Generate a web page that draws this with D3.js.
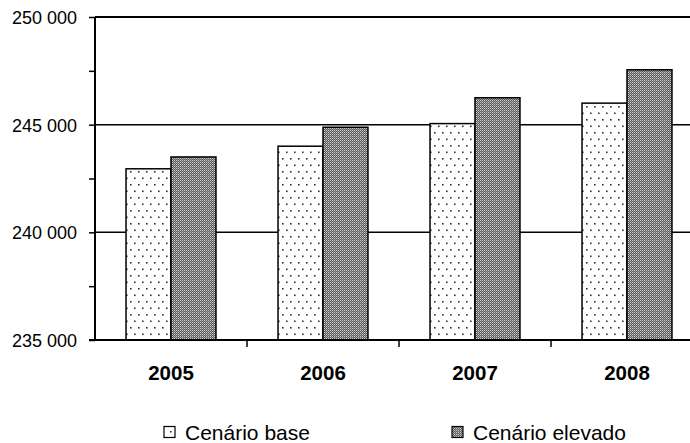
<!DOCTYPE html>
<html><head><meta charset="utf-8">
<script src="https://cdn.jsdelivr.net/npm/d3@7"></script>
<style>body{margin:0;background:#fff}</style>
</head><body>
<svg id="c" width="690" height="443"></svg>
<script>
const categories = ["2005","2006","2007","2008"];
const seriesNames = ["Cenário base","Cenário elevado"];
const base = [242950, 244000, 245050, 246000];
const elevado = [243500, 244880, 246250, 247550];
const yTicks = [235000, 240000, 245000, 250000];

const FONT = "Liberation Sans, Arial, sans-serif";
const svg = d3.select("#c");
const L = 95, R = 703, T = 17, B = 340;
const x = d3.scaleBand().domain(categories).range([L, R]).paddingInner(0).paddingOuter(0);
const y = d3.scaleLinear().domain([235000, 250000]).range([B, T]);
const xs = d3.scaleBand().domain(seriesNames).range([0, x.bandwidth()]).paddingInner(0).paddingOuter(0.69);

const defs = svg.append("defs");
const p1 = defs.append("pattern").attr("id","dots").attr("patternUnits","userSpaceOnUse").attr("width",8).attr("height",13);
p1.append("rect").attr("width",8).attr("height",13).attr("fill","#fff");
p1.append("rect").attr("x",2).attr("y",2).attr("width",1.6).attr("height",1.6).attr("fill","#333");
p1.append("rect").attr("x",6).attr("y",8.5).attr("width",1.6).attr("height",1.6).attr("fill","#333");
const p2 = defs.append("pattern").attr("id","check").attr("patternUnits","userSpaceOnUse").attr("width",2).attr("height",2);
p2.append("rect").attr("width",2).attr("height",2).attr("fill","#5a5a5a");
p2.append("rect").attr("x",0).attr("y",0).attr("width",1).attr("height",1).attr("fill","#d0d0d0");
p2.append("rect").attr("x",1).attr("y",1).attr("width",1).attr("height",1).attr("fill","#9a9a9a");

// gridlines
svg.append("g").selectAll("line").data(yTicks.slice(1)).join("line")
  .attr("x1", L).attr("x2", 690).attr("y1", d=>y(d)).attr("y2", d=>y(d))
  .attr("stroke","#000").attr("stroke-width", d=> d===250000?2:1.5);

// bars
const data = categories.map((c,i)=>({c, vals:[base[i], elevado[i]]}));
const fills = ["url(#dots)","url(#check)"];
const g = svg.append("g");
data.forEach(d=>{
  d.vals.forEach((v,j)=>{
    g.append("rect").attr("x", x(d.c)+xs(seriesNames[j])).attr("y", y(v))
      .attr("width", xs.bandwidth()).attr("height", B - y(v))
      .attr("fill", fills[j]).attr("stroke","#000").attr("stroke-width",1.5);
  });
});

// y axis
const yAxis = d3.axisLeft(y).tickValues(d3.range(235000, 250001, 2500)).tickSize(6)
  .tickFormat(d => yTicks.includes(d) ? d3.format(",")(d).replace(",", " ") : "");
const ya = svg.append("g").attr("transform",`translate(${L},0)`).call(yAxis);
ya.attr("font-size",null).attr("font-family",null);
ya.select(".domain").attr("stroke-width",2).attr("d",`M0,${T}V${B}`);
ya.selectAll(".tick line").attr("stroke-width",1.5);
ya.selectAll("text").style("font-family",FONT).style("font-size","18px").attr("fill","#000").attr("x",-18).attr("dy","0.36em");

// x axis
const xAxis = d3.axisBottom(x).tickSize(0).tickPadding(0);
const xa = svg.append("g").attr("transform",`translate(0,${B})`).call(xAxis);
xa.attr("font-size",null).attr("font-family",null);
xa.select(".domain").attr("d",`M${L-6},0H690`).attr("stroke-width",2);
xa.selectAll("text").style("font-family",FONT).style("font-size","20.5px").style("font-weight","bold").attr("fill","#000").attr("y",40).attr("dy",0);
xa.append("g").selectAll("line").data(categories.slice(1)).join("line")
  .attr("x1", d=>x(d)).attr("x2", d=>x(d)).attr("y1",0).attr("y2",7).attr("stroke","#000").attr("stroke-width",1.5);

// legend
const legX = [164, 452];
const lg = svg.append("g");
seriesNames.forEach((n,i)=>{
  lg.append("rect").attr("x",legX[i]).attr("y",426.5).attr("width",11).attr("height",11)
    .attr("fill", fills[i]).attr("stroke","#000").attr("stroke-width",1.2);
  lg.append("text").attr("x",legX[i]+21).attr("y",440).text(n)
    .style("font-family",FONT).style("font-size","21px").attr("fill","#000");
});
</script>
</body></html>
